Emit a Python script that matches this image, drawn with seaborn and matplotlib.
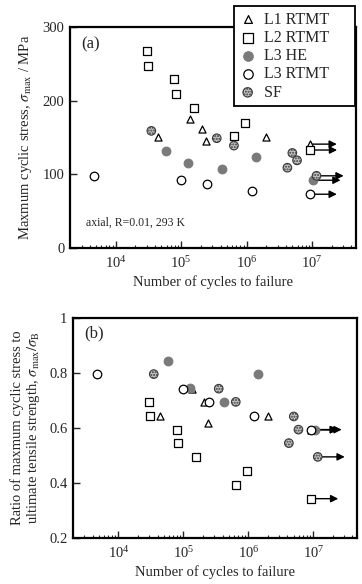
import numpy as np
import pandas as pd
import matplotlib
matplotlib.use("Agg")
import matplotlib.pyplot as plt
import seaborn as sns

sns.set_style("ticks")
plt.rcParams["font.family"] = ["Liberation Serif", "DejaVu Serif"]
plt.rcParams["mathtext.fontset"] = "stix"

# ---------------- data ----------------
series_names = ["L1 RTMT", "L2 RTMT", "L3 HE", "L3 RTMT", "SF"]

n_L1 = [4.4e4, 1.35e5, 2.1e5, 2.4e5, 2.0e6, 9.2e6]
s_L1 = [151, 175, 162, 145, 151, 141]
r_L1 = [0.642, 0.743, 0.693, 0.618, 0.642, 0.594]
run_L1 = [False, False, False, False, False, True]

n_L2 = [3.0e4, 3.1e4, 7.9e4, 8.4e4, 1.57e5, 9.6e5, 6.5e5, 9.3e6]
s_L2 = [267, 247, 229, 209, 190, 170, 152, 133]
r_L2 = [0.695, 0.642, 0.594, 0.545, 0.495, 0.445, 0.394, 0.343]
run_L2 = [False, False, False, False, False, False, False, True]

n_HE = [5.8e4, 1.25e5, 4.2e5, 1.4e6, 1.05e7]
s_HE = [131, 116, 107, 124, 92]
r_HE = [0.844, 0.745, 0.693, 0.795, 0.594]
run_HE = [False, False, False, False, True]

n_L3 = [4.7e3, 1.0e5, 2.5e5, 1.2e6, 9.2e6]
s_L3 = [98, 92, 87, 78, 73]
r_L3 = [0.796, 0.743, 0.693, 0.642, 0.594]
run_L3 = [False, False, False, False, True]

n_SF = [3.5e4, 3.5e5, 6.4e5, 4.2e6, 5.0e6, 5.9e6, 1.17e7]
s_SF = [159, 149, 139, 109, 129, 119, 98]
r_SF = [0.796, 0.743, 0.695, 0.545, 0.642, 0.594, 0.495]
run_SF = [False, False, False, False, False, False, True]

yticks_a = [0, 100, 200, 300]
yticks_b = [0.2, 0.4, 0.6, 0.8, 1.0]
yticklabels_b = ["0.2", "0.4", "0.6", "0.8", "1"]
xticks = [1e4, 1e5, 1e6, 1e7]

styles = {
    "L1 RTMT": dict(marker="^", s=26, facecolor="white", edgecolor="black", linewidth=0.9),
    "L2 RTMT": dict(marker="s", s=40, facecolor="white", edgecolor="black", linewidth=0.9),
    "L3 HE": dict(marker="o", s=38, facecolor="#7a7a7a", edgecolor="#7a7a7a", linewidth=0.9),
    "L3 RTMT": dict(marker="o", s=38, facecolor="white", edgecolor="black", linewidth=0.9),
    "SF": dict(marker="o", s=38, facecolor="#c4c4c4", edgecolor="#3a3a3a", linewidth=0.8, hatch="......"),
}

data_n = {"L1 RTMT": n_L1, "L2 RTMT": n_L2, "L3 HE": n_HE, "L3 RTMT": n_L3, "SF": n_SF}
data_a = {"L1 RTMT": s_L1, "L2 RTMT": s_L2, "L3 HE": s_HE, "L3 RTMT": s_L3, "SF": s_SF}
data_b = {"L1 RTMT": r_L1, "L2 RTMT": r_L2, "L3 HE": r_HE, "L3 RTMT": r_L3, "SF": r_SF}
data_run = {"L1 RTMT": run_L1, "L2 RTMT": run_L2, "L3 HE": run_HE, "L3 RTMT": run_L3, "SF": run_SF}

fig = plt.figure(figsize=(3.62, 5.84), dpi=100)
ax_a = fig.add_axes([70 / 362, 1 - 248 / 584, 286 / 362, 221 / 584])
ax_b = fig.add_axes([73 / 362, 1 - 538 / 584, 284 / 362, 220 / 584])


def draw(ax, ydata, legend):
    for name in series_names:
        n = data_n[name]
        y = ydata[name]
        run = data_run[name]
        for xi, yi, ri in zip(n, y, run):
            if ri:
                ax.annotate("", xy=(xi * 2.6, yi), xytext=(xi, yi),
                            arrowprops=dict(arrowstyle="-|>", color="black", lw=1.0,
                                            mutation_scale=11, shrinkA=0, shrinkB=0),
                            zorder=1)
        df = pd.DataFrame({"N": n, "v": y})
        sns.scatterplot(data=df, x="N", y="v", ax=ax, zorder=3,
                        label=name if legend else None, legend=False, **styles[name])
    ax.set_xscale("log")
    ax.set_xlim(2.0e3, 4.7e7)
    ax.set_xticks(xticks)
    ax.tick_params(axis="both", which="both", direction="in", labelsize=10.5,
                   top=False, right=False)
    ax.tick_params(axis="x", which="major", length=5, width=1.0, pad=5)
    ax.tick_params(axis="x", which="minor", length=2.5, width=0.8)
    ax.tick_params(axis="y", which="major", length=5, width=1.0, pad=4)
    for sp in ax.spines.values():
        sp.set_linewidth(1.6)
        sp.set_color("black")
    ax.set_xlabel("Number of cycles to failure", fontsize=10.5, labelpad=3)


draw(ax_a, data_a, True)
ax_a.set_ylim(0, 300)
ax_a.set_yticks(yticks_a)
ax_a.set_ylabel(r"Maxmum cyclic stress, $\sigma_{\rm max}$ / MPa", fontsize=10.5, labelpad=6)
ax_a.text(0.04, 0.92, "(a)", transform=ax_a.transAxes, fontsize=12, ha="left", va="center")
ax_a.text(0.055, 0.115, "axial, R=0.01, 293 K", transform=ax_a.transAxes, fontsize=8.5,
          ha="left", va="center")
handles, labels = ax_a.get_legend_handles_labels()
labels = [lab + "\u00a0" * 5 for lab in labels]
leg = ax_a.legend(handles, labels, loc="upper right", bbox_to_anchor=(0.997, 1.095),
                  borderaxespad=0, fontsize=11.5, frameon=True, fancybox=False,
                  edgecolor="black", handlelength=1.0, handletextpad=0.55,
                  labelspacing=0.14, borderpad=0.35, markerscale=1.1)
leg.get_frame().set_linewidth(1.3)
leg.get_frame().set_alpha(1)
leg.set_zorder(10)

draw(ax_b, data_b, False)
ax_b.set_ylim(0.2, 1.0)
ax_b.set_yticks(yticks_b)
ax_b.set_yticklabels(yticklabels_b)
ax_b.set_ylabel("Ratio of maxmum cyclic stress to\n"
                r"ultimate tensile strength, $\sigma_{\rm max}/\sigma_{\rm B}$",
                fontsize=10.5, labelpad=5, linespacing=1.1)
ax_b.text(0.04, 0.93, "(b)", transform=ax_b.transAxes, fontsize=12, ha="left", va="center")

fig.savefig("out.png", dpi=100)
